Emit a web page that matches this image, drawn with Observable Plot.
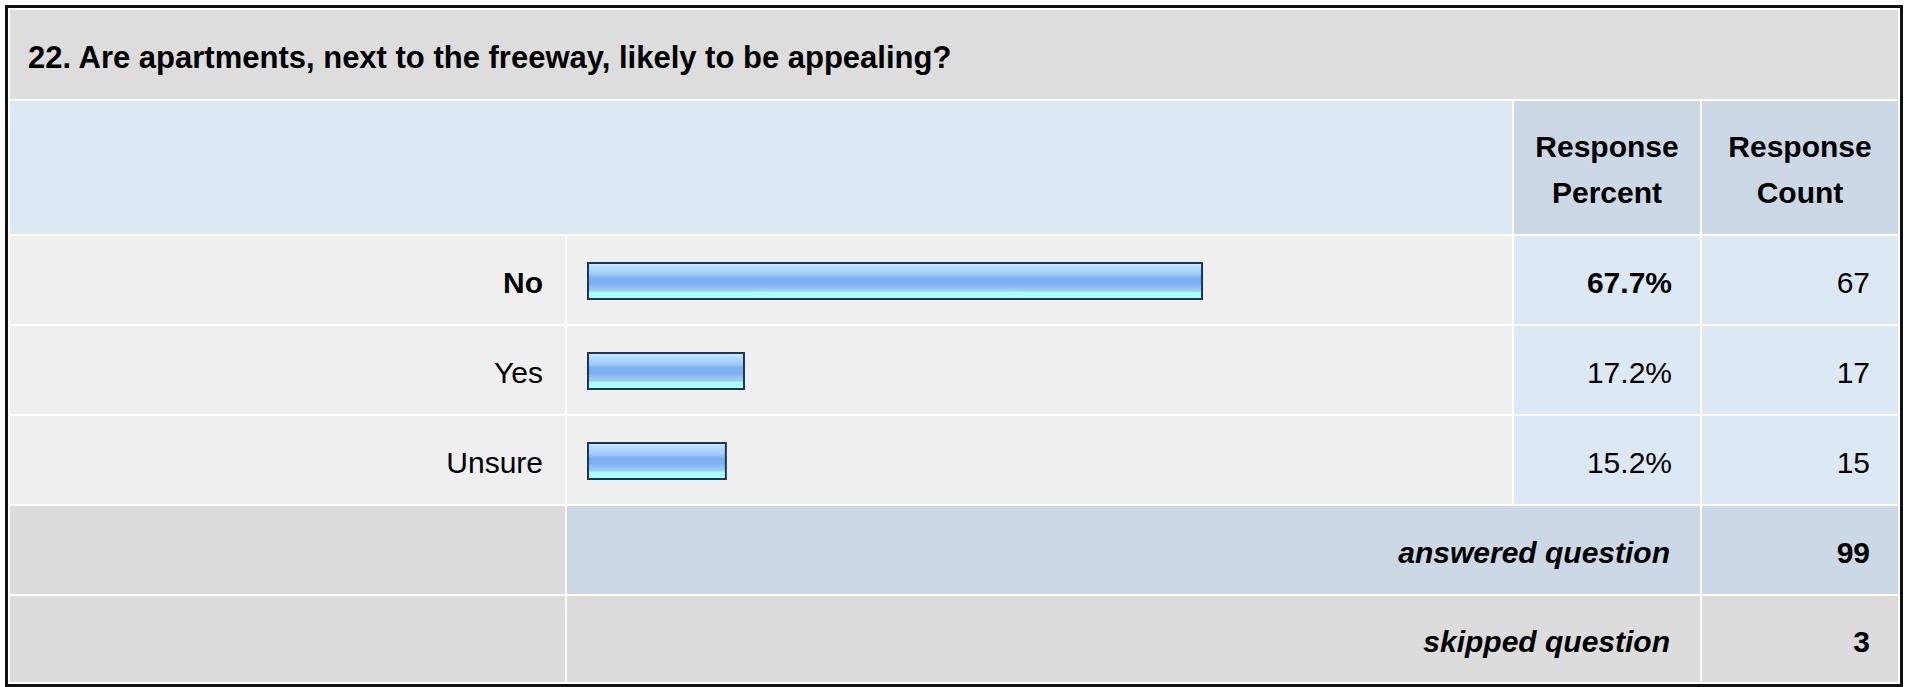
<!DOCTYPE html>
<html>
<head>
<meta charset="utf-8">
<script src="https://cdn.jsdelivr.net/npm/d3@7"></script>
<script src="https://cdn.jsdelivr.net/npm/@observablehq/plot@0.6"></script>
<style>
  html, body { margin: 0; padding: 0; background: #fff; }
  body { position: relative; width: 1907px; height: 687px; overflow: hidden;
         font-family: "Liberation Sans", Arial, sans-serif; color: #000; }
  #wrap { position: absolute; left: 5px; top: 5px; width: 1888px; height: 672px;
          border: 3px solid #111; padding: 2px; background: #fff;
          display: grid; gap: 2px;
          grid-template-columns: 555px 945px 186px 196px;
          grid-template-rows: 89px 133px 88px 88px 88px 88px 86px; }
  .cell { display: flex; align-items: center; font-size: 30px; box-sizing: border-box; }
  .title { grid-column: 1 / 5; background: #dddddd; font-weight: bold; font-size: 31px; padding-left: 18px; padding-top: 6px; }
  .hblank { grid-column: 1 / 3; background: #dde8f5; }
  .hcol { background: #cdd8e6; font-weight: bold; justify-content: center; text-align: center; line-height: 1.53; padding-top: 5px; }
  .lab { background: #efefef; justify-content: flex-end; padding-right: 22px; padding-top: 6px; }
  .barcell { background: #efefef; }
  .num { background: #dde8f5; justify-content: flex-end; padding-right: 28px; padding-top: 6px; }
  .sumlab { grid-column: 1 / 2; background: #dcdcdc; }
  .sumtxt { grid-column: 2 / 4; justify-content: flex-end; padding-right: 30px; padding-top: 6px; font-weight: bold; font-style: italic; }
  .sumnum { justify-content: flex-end; padding-right: 28px; padding-top: 6px; font-weight: bold; }
  #plot { position: absolute; left: 567px; top: 236px; width: 945px; height: 270px; }
</style>
</head>
<body>
<div id="wrap"></div>
<div id="plot"></div>
<script>
const title = "22. Are apartments, next to the freeway, likely to be appealing?";
const headerLabels = ["Response\nPercent", "Response\nCount"];
const categories = ["No", "Yes", "Unsure"];
const percents = [67.7, 17.2, 15.2];
const counts = [67, 17, 15];
const summaryLabels = ["answered question", "skipped question"];
const summaryValues = [99, 3];

const rows = categories.map((c, i) => ({category: c, percent: percents[i], count: counts[i]}));
const maxPct = d3.max(percents);

const wrap = document.getElementById("wrap");
function cell(cls, text, style) {
  const d = document.createElement("div");
  d.className = "cell " + cls;
  if (text != null) d.innerHTML = String(text).replace(/\n/g, "<br>");
  if (style) Object.assign(d.style, style);
  wrap.appendChild(d);
  return d;
}

cell("title", title);
cell("hblank");
headerLabels.forEach(h => cell("hcol", h));
rows.forEach(r => {
  const top = r.percent === maxPct;
  cell("lab", r.category, top ? {fontWeight: "bold"} : null);
  cell("barcell");
  cell("num", r.percent.toFixed(1) + "%", top ? {fontWeight: "bold"} : null);
  cell("num", r.count);
});
cell("sumlab");
cell("sumtxt", summaryLabels[0], {background: "#cdd8e6"});
cell("sumnum", summaryValues[0], {background: "#cdd8e6"});
cell("sumlab");
cell("sumtxt", summaryLabels[1], {background: "#dcdcdc"});
cell("sumnum", summaryValues[1], {background: "#dcdcdc"});

const chart = Plot.plot({
  width: 945,
  height: 270,
  marginTop: 0,
  marginBottom: 0,
  marginLeft: 21,
  marginRight: 17,
  style: {background: "transparent", overflow: "visible"},
  x: {domain: [0, 100], axis: null},
  y: {domain: categories, axis: null, paddingInner: 0.6, paddingOuter: 0.3},
  marks: [
    Plot.barX(rows, {x: "percent", y: "category", fill: "url(#barGrad)", stroke: "#1d3658", strokeWidth: 2})
  ]
});
const svgNS = "http://www.w3.org/2000/svg";
const defs = document.createElementNS(svgNS, "defs");
const grad = document.createElementNS(svgNS, "linearGradient");
grad.setAttribute("id", "barGrad");
grad.setAttribute("x1", "0"); grad.setAttribute("y1", "0");
grad.setAttribute("x2", "0"); grad.setAttribute("y2", "1");
[[0, "#d2eaff"], [0.14, "#b3dafd"], [0.3, "#9fccfa"], [0.42, "#7cb0f1"], [0.58, "#7cb0f1"],
 [0.66, "#8fbff5"], [0.78, "#a3d0f9"], [0.82, "#aaffff"], [1, "#aaffff"]].forEach(([o, c]) => {
  const s = document.createElementNS(svgNS, "stop");
  s.setAttribute("offset", o);
  s.setAttribute("stop-color", c);
  grad.appendChild(s);
});
defs.appendChild(grad);
chart.insertBefore(defs, chart.firstChild);
document.getElementById("plot").appendChild(chart);
</script>
</body>
</html>
